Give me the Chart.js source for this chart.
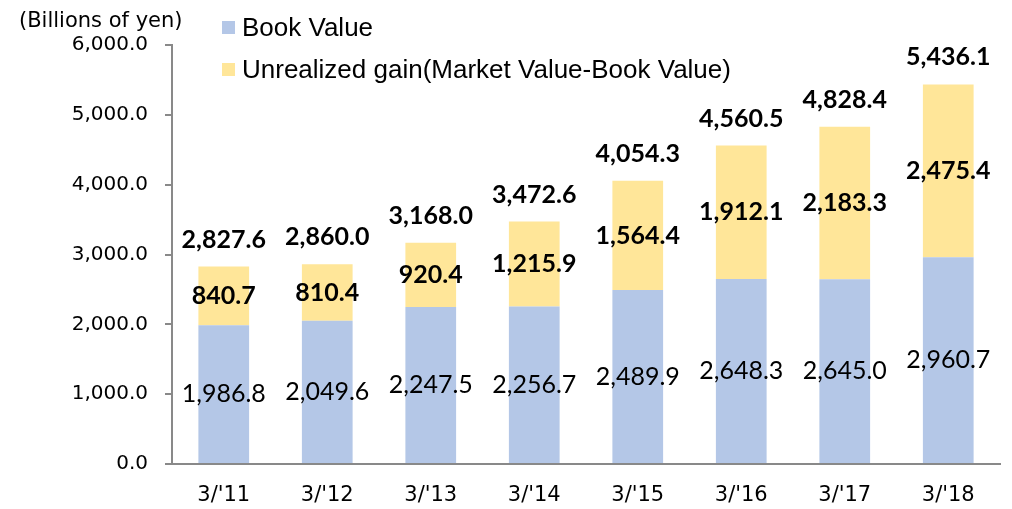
<!DOCTYPE html>
<html>
<head>
<meta charset="utf-8">
<script src="https://cdn.jsdelivr.net/npm/chart.js@4/dist/chart.umd.min.js"></script>
<style>
  html, body { margin: 0; padding: 0; background: #fff; }
  #wrap { width: 1012px; height: 509px; position: relative; }
</style>
</head>
<body>
<div id="wrap"><canvas id="chart" width="1012" height="509"></canvas></div>
<script>
// data
const categories = ["3/'11", "3/'12", "3/'13", "3/'14", "3/'15", "3/'16", "3/'17", "3/'18"];
const bookValue = [1986.8, 2049.6, 2247.5, 2256.7, 2489.9, 2648.3, 2645.0, 2960.7];
const unrealizedGain = [840.7, 810.4, 920.4, 1215.9, 1564.4, 1912.1, 2183.3, 2475.4];
const totals = [2827.6, 2860.0, 3168.0, 3472.6, 4054.3, 4560.5, 4828.4, 5436.1];
const yTicks = [0, 1000, 2000, 3000, 4000, 5000, 6000];
const unitLabel = '(Billions of yen)';
const seriesNames = ['Book Value', 'Unrealized gain(Market Value-Book Value)'];

const BLUE = '#B4C7E7';
const YELLOW = '#FFE699';
const AXIS = '#898989';
const TICK_FONT = '"DejaVu Sans", "Noto Sans", sans-serif';
const LABEL_FONT = 'Lato, "Open Sans", sans-serif';

const fmt = v => v.toLocaleString('en-US', { minimumFractionDigits: 1, maximumFractionDigits: 1 });

// draws the value labels, the unit caption and the legend
const labelsPlugin = {
  id: 'labels',
  afterDatasetsDraw(chart) {
    const ctx = chart.ctx;
    const metaBook = chart.getDatasetMeta(0);
    const metaGain = chart.getDatasetMeta(1);
    ctx.save();
    ctx.textAlign = 'center';
    ctx.textBaseline = 'middle';
    ctx.fillStyle = '#000';
    metaBook.data.forEach((bar, i) => {
      ctx.font = '25px ' + LABEL_FONT;
      ctx.fillText(fmt(bookValue[i]), bar.x, (bar.y + bar.base) / 2);
    });
    metaGain.data.forEach((bar, i) => {
      ctx.font = 'bold 25px ' + LABEL_FONT;
      ctx.fillText(fmt(unrealizedGain[i]), bar.x, (bar.y + bar.base) / 2);
      ctx.fillText(fmt(totals[i]), bar.x, chart.scales.y.getPixelForValue(totals[i]) - 27);
    });

    // unit caption
    ctx.textAlign = 'left';
    ctx.font = '21px ' + TICK_FONT;
    ctx.fillText(unitLabel, 19, 22);

    // legend
    const colors = [BLUE, YELLOW];
    ctx.font = '26px "Liberation Sans", Arial, sans-serif';
    seriesNames.forEach((name, i) => {
      const cy = 28 + i * 42;
      ctx.fillStyle = colors[i];
      ctx.fillRect(222, cy - 7, 13, 13);
      ctx.fillStyle = '#000';
      ctx.fillText(name, 242, cy + 1);
    });
    ctx.restore();
  }
};

new Chart(document.getElementById('chart'), {
  type: 'bar',
  data: {
    labels: categories,
    datasets: [
      { label: seriesNames[0], data: bookValue, backgroundColor: BLUE, barPercentage: 0.49, categoryPercentage: 1 },
      { label: seriesNames[1], data: unrealizedGain, backgroundColor: YELLOW, barPercentage: 0.49, categoryPercentage: 1 }
    ]
  },
  options: {
    responsive: false,
    animation: false,
    layout: { padding: { top: 45, right: 12, bottom: 0, left: 0 } },
    plugins: { legend: { display: false }, tooltip: { enabled: false } },
    scales: {
      x: {
        stacked: true,
        grid: { display: false, drawTicks: false },
        border: { display: true, color: AXIS, width: 2 },
        ticks: { color: '#000', font: { family: TICK_FONT, size: 21 }, padding: 19 },
        afterFit(scale) { scale.height = 45; }
      },
      y: {
        stacked: true,
        min: 0,
        max: 6000,
        afterBuildTicks(scale) { scale.ticks = yTicks.map(v => ({ value: v })); },
        grid: { drawOnChartArea: false, drawTicks: true, tickLength: 7, color: AXIS, lineWidth: 2 },
        border: { display: true, color: AXIS, width: 2 },
        ticks: { color: '#000', font: { family: TICK_FONT, size: 20 }, padding: 17, callback: v => fmt(v) },
        afterFit(scale) { scale.width = 172; }
      }
    }
  },
  plugins: [labelsPlugin]
});
</script>
</body>
</html>
